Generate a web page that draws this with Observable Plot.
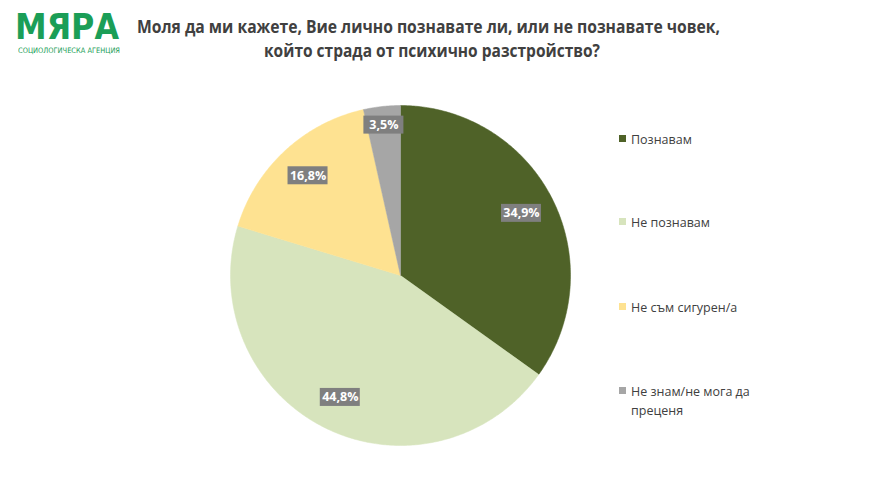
<!DOCTYPE html>
<html>
<head>
<meta charset="utf-8">
<script src="https://cdn.jsdelivr.net/npm/d3@7"></script>
<script src="https://cdn.jsdelivr.net/npm/@observablehq/plot@0.6"></script>
<style>
  html, body { margin: 0; padding: 0; background: #ffffff; }
  #wrap { position: relative; width: 870px; height: 490px; overflow: hidden; font-family: "Open Sans", "DejaVu Sans", sans-serif; }
  #chart { position: absolute; left: 0; top: 0; }
  .fit { position: absolute; white-space: nowrap; transform-origin: 0 0; }
  #logo1 { left: 15px; top: 12px; color: #1b9e57; font-family: "DejaVu Sans", sans-serif; font-weight: 900; font-size: 36px; line-height: 30px; height: 30px; }
  #logo2 { left: 18px; top: 47px; color: #1b9e57; font-family: "DejaVu Sans", sans-serif; font-size: 7.5px; line-height: 8px; }
  .title { color: #404040; font-weight: bold; font-size: 17px; line-height: 22px; font-family: "Open Sans", sans-serif; }
  .leg { position: absolute; left: 619px; font-size: 12.5px; color: #404040; line-height: 19px; }
  .leg .sw { position: absolute; left: 0; top: 5px; width: 7px; height: 7px; }
  .leg .tx { margin-left: 12px; }
</style>
</head>
<body>
<div id="wrap">
  <div id="chart"></div>
  <div id="logo1" class="fit" data-w="104">МЯРА</div>
  <div id="logo2" class="fit" data-w="102">СОЦИОЛОГИЧЕСКА АГЕНЦИЯ</div>
  <div id="t1" class="fit title" style="left:137px; top:16px" data-w="583">Моля да ми кажете, Вие лично познавате ли, или не познавате човек,</div>
  <div id="t2" class="fit title" style="left:264px; top:40px" data-w="336">който страда от психично разстройство?</div>
</div>
<script>
const categories = ["Познавам", "Не познавам", "Не съм сигурен/а", "Не знам/не мога да преценя"];
const values = [34.9, 44.8, 16.8, 3.5];
const labels = ["34,9%", "44,8%", "16,8%", "3,5%"];
const colors = ["#4f6228", "#d7e4bd", "#fee291", "#a6a6a6"];
const legendTop = [130, 213, 298, 382];

const W = 870, H = 490, CX = 400, CY = 275, R = 170;

// horizontally fit the text boxes to the reference widths
document.querySelectorAll(".fit").forEach(el => {
  const target = +el.dataset.w;
  const w = el.getBoundingClientRect().width;
  el.style.transform = `scaleX(${target / w})`;
});

const arcs = d3.pie().value(d => d.value).sort(null)(
  categories.map((c, i) => ({category: c, value: values[i], label: labels[i]}))
);

const pts = [];
arcs.forEach(a => {
  const c = a.data.category;
  pts.push({category: c, x: 0, y: 0});
  const n = Math.max(2, Math.ceil((a.endAngle - a.startAngle) / 0.01));
  for (let k = 0; k <= n; k++) {
    const t = a.startAngle + (a.endAngle - a.startAngle) * k / n;
    pts.push({category: c, x: Math.sin(t), y: Math.cos(t)});
  }
  pts.push({category: c, x: 0, y: 0});
});

const lab = arcs.map(a => {
  const m = (a.startAngle + a.endAngle) / 2;
  const f = a.data.value < 5 ? 0.89 : 0.8;
  return {category: a.data.category, label: a.data.label, x: f * Math.sin(m), y: f * Math.cos(m)};
});
const bw = 20 / R, bh = 9 / R;

const plot = Plot.plot({
  width: W, height: H,
  margin: 0,
  x: {domain: [-CX / R, (W - CX) / R], axis: null},
  y: {domain: [-(H - CY) / R, CY / R], axis: null},
  color: {domain: categories, range: colors},
  marks: [
    Plot.line(pts, {x: "x", y: "y", z: "category", fill: "category", stroke: "category", strokeWidth: 0.5, curve: "linear"}),
    Plot.rect(lab, {x1: d => d.x - bw, x2: d => d.x + bw, y1: d => d.y - bh, y2: d => d.y + bh, fill: "#7f7f7f"}),
    Plot.text(lab, {x: "x", y: "y", text: "label", fill: "white", fontSize: 12.5, fontWeight: "bold", fontFamily: "Open Sans, sans-serif"})
  ]
});
document.getElementById("chart").appendChild(plot);

const wrap = document.getElementById("wrap");
categories.forEach((c, i) => {
  const d = document.createElement("div");
  d.className = "leg";
  d.style.top = legendTop[i] + "px";
  const txt = c === "Не знам/не мога да преценя" ? "Не знам/не мога да<br>преценя" : c;
  d.innerHTML = `<span class="sw" style="background:${colors[i]}"></span><div class="tx">${txt}</div>`;
  wrap.appendChild(d);
});
</script>
</body>
</html>
